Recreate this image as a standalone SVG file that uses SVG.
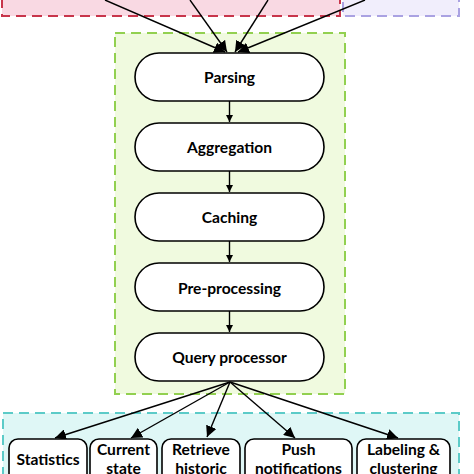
<svg xmlns="http://www.w3.org/2000/svg" width="474" height="474" viewBox="0 0 474 474">
<defs>
<style>
.node rect{fill:#fff;stroke:#000;stroke-width:1.6}
.lbl{font-family:Lato,"Open Sans","Liberation Sans",sans-serif;font-weight:bold;font-size:15.6px;fill:#000;text-anchor:middle}
.conn line{stroke:#000;stroke-width:1.4;marker-end:url(#ah)}
</style>
<marker id="ah" viewBox="0 0 10 10" refX="10" refY="5" markerWidth="7" markerHeight="7" markerUnits="userSpaceOnUse" orient="auto"><path d="M0,0 L10,5 L0,10 z" fill="#000"/></marker>
<marker id="ahb" viewBox="0 0 10 10" refX="10" refY="5" markerWidth="11" markerHeight="11" markerUnits="userSpaceOnUse" orient="auto"><path d="M0,0 L10,5 L0,10 z" fill="#000"/></marker>
</defs>
<rect width="474" height="474" fill="#fff"/>
<g id="groups">
<rect x="2" y="-20" width="338" height="36" fill="#f9d9e3" stroke="#c8354b" stroke-width="2" stroke-dasharray="10,6"/>
<rect x="343" y="-20" width="116" height="36" fill="#f1eefc" stroke="#aaa2e2" stroke-width="2" stroke-dasharray="10,6"/>
<rect x="115" y="33" width="230" height="361" fill="#f0fadf" stroke="#92d050" stroke-width="2" stroke-dasharray="10,6"/>
<rect x="3" y="413" width="456" height="80" fill="#dff7f6" stroke="#5ccbc8" stroke-width="2" stroke-dasharray="10,6"/>
</g>
<g id="connectors" class="conn">
<line x1="105" y1="0" x2="225" y2="52" style="marker-end:url(#ahb)"/>
<line x1="190" y1="0" x2="227" y2="52" style="marker-end:url(#ahb)"/>
<line x1="268" y1="0" x2="235" y2="52" style="marker-end:url(#ahb)"/>
<line x1="365" y1="0" x2="238" y2="52" style="marker-end:url(#ahb)"/>
<line x1="229.5" y1="101" x2="229.5" y2="122"/>
<line x1="229.5" y1="171" x2="229.5" y2="192"/>
<line x1="229.5" y1="241" x2="229.5" y2="262"/>
<line x1="229.5" y1="311" x2="229.5" y2="332"/>
<line x1="230" y1="382" x2="55" y2="438" style="marker-end:url(#ahb)"/>
<line x1="230" y1="382" x2="131" y2="438" style="marker-end:url(#ahb)"/>
<line x1="230" y1="382" x2="207" y2="437" style="marker-end:url(#ahb)"/>
<line x1="230" y1="382" x2="295" y2="438" style="marker-end:url(#ahb)"/>
<line x1="230" y1="382" x2="398" y2="438" style="marker-end:url(#ahb)"/>
</g>
<g id="parsing" class="node"><rect x="135" y="53" width="189" height="48" rx="24"/><text class="lbl" x="229.5" y="83">Parsing</text></g>
<g id="aggregation" class="node"><rect x="135" y="123" width="189" height="48" rx="24"/><text class="lbl" x="229.5" y="153">Aggregation</text></g>
<g id="caching" class="node"><rect x="135" y="193" width="189" height="48" rx="24"/><text class="lbl" x="229.5" y="223">Caching</text></g>
<g id="preprocessing" class="node"><rect x="135" y="263" width="189" height="48" rx="24"/><text class="lbl" x="229.5" y="294">Pre-processing</text></g>
<g id="queryprocessor" class="node"><rect x="135" y="333" width="189" height="48" rx="24"/><text class="lbl" x="229.5" y="363">Query processor</text></g>
<g id="statistics" class="node"><rect x="9" y="439" width="78" height="50" rx="9"/><text class="lbl" x="48" y="465">Statistics</text></g>
<g id="currentstate" class="node"><rect x="90" y="439" width="67" height="50" rx="9"/><text class="lbl" x="123.5" y="455">Current</text><text class="lbl" x="123.5" y="474">state</text></g>
<g id="retrievehistoric" class="node"><rect x="162" y="439" width="78" height="50" rx="9"/><text class="lbl" x="201" y="455">Retrieve</text><text class="lbl" x="201" y="474">historic</text></g>
<g id="pushnotifications" class="node"><rect x="245" y="439" width="107" height="50" rx="9"/><text class="lbl" x="298.5" y="455">Push</text><text class="lbl" x="298.5" y="474">notifications</text></g>
<g id="labeling" class="node"><rect x="357" y="439" width="93" height="50" rx="9"/><text class="lbl" x="403.5" y="455">Labeling &amp;</text><text class="lbl" x="403.5" y="474">clustering</text></g>
</svg>
